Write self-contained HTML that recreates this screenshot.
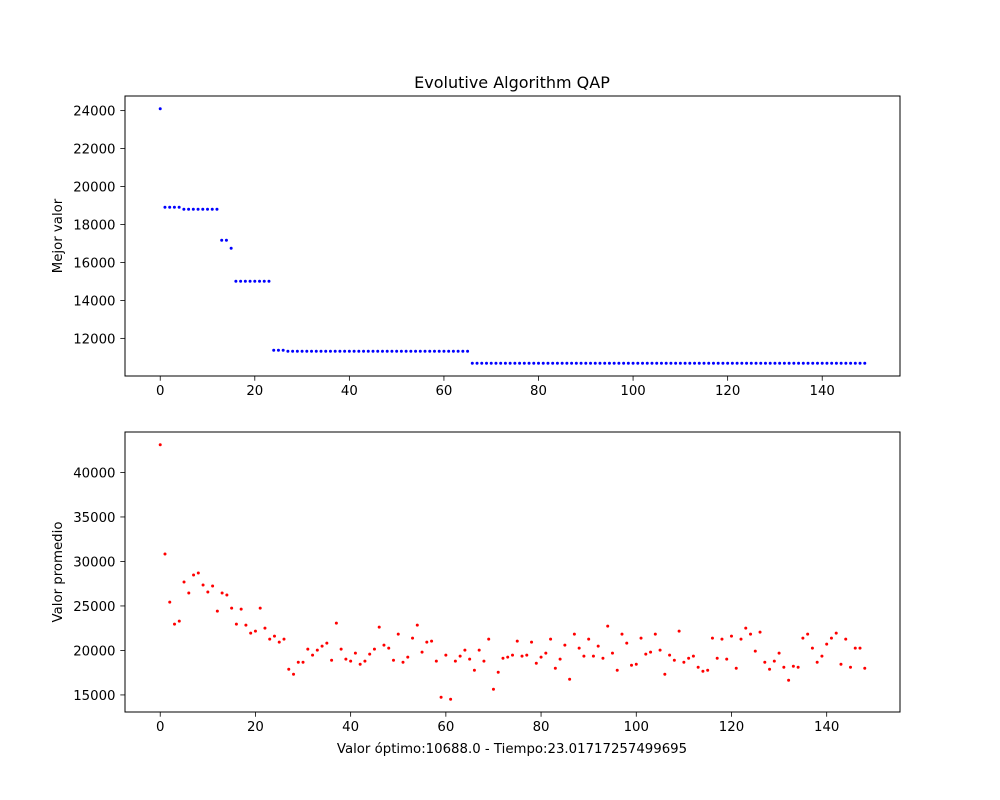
<!DOCTYPE html>
<html><head><meta charset="utf-8">
<style>
html,body{margin:0;padding:0;background:#fff;}
svg{display:block;font-family:"DejaVu Sans","Liberation Sans",sans-serif;}
</style></head>
<body>
<svg id="fig" width="1000" height="800" viewBox="0 0 1000 800"></svg>
<script>
const bestValues = [24100,18906,18906,18906,18906,18801,18801,18801,18801,18801,18801,18801,18801,17168,17168,16746,15008,15008,15008,15008,15008,15008,15008,15008,11371,11371,11371,
11319,11319,11319,11319,11319,11319,11319,11319,11319,11319,11319,11319,11319,11319,11319,11319,11319,11319,11319,11319,11319,11319,11319,11319,11319,11319,11319,11319,11319,11319,11319,11319,11319,11319,11319,11319,11319,11319,11319,
10688,10688,10688,10688,10688,10688,10688,10688,10688,10688,10688,10688,10688,10688,10688,10688,10688,10688,10688,10688,10688,10688,10688,10688,10688,10688,10688,10688,10688,10688,10688,10688,10688,10688,10688,10688,10688,10688,10688,10688,10688,10688,10688,10688,10688,10688,10688,10688,10688,10688,10688,10688,10688,10688,10688,10688,10688,10688,10688,10688,10688,10688,10688,10688,10688,10688,10688,10688,10688,10688,10688,10688,10688,10688,10688,10688,10688,10688,10688,10688,10688,10688,10688,10688];
const avgValues = [43117,30842,25436,22958,23296,27689,26450,28477,28702,27351,26562,27238,24423,26450,26224,24760,22958,24648,22846,21945,22170,24760,22508,21269,21607,20931,21269,17891,17327,18679,18679,20143,19467,20030,20481,
20819,18904,23071,20143,19017,18792,19693,18454,18792,19580,20143,22621,20593,20256,18904,21832,18679,19242,21382,22846,19805,20931,21044,18792,14737,19467,14512,18792,19355,20030,19017,17778,20030,18792,21269,15638,17553,19129,19242,19467,21044,
19355,19467,20931,18566,19242,19693,21269,18003,19017,20593,16764,21832,20256,19355,21269,19355,20481,19129,22733,19693,17778,21832,20819,18341,18454,21382,19580,19805,21832,20030,17327,19467,18904,22170,18679,19129,19355,18116,17665,17778,21382,
19129,21269,19017,21607,18003,21269,22508,21832,19918,22058,18679,17891,18792,19693,18116,16652,18228,18116,21382,21832,20256,18679,19355,20706,21382,21945,18454,21269,18116,20256,20256,18003];
const xTicks = [0,20,40,60,80,100,120,140];
const topYTicks = [12000,14000,16000,18000,20000,22000,24000];
const botYTicks = [15000,20000,25000,30000,35000,40000];

const NS="http://www.w3.org/2000/svg";
const svg=document.getElementById('fig');
function mk(tag,attrs,parent){const e=document.createElementNS(NS,tag);for(const k in attrs)e.setAttribute(k,attrs[k]);(parent||svg).appendChild(e);return e;}

function panel(name,top,values,color,yTicks,ylabel){
  const L=125,R=900,T=top,B=top+280;
  const n=values.length;
  const xmin=0,xmax=n-1,xm=(xmax-xmin)*0.05;
  const x0=xmin-xm,x1=xmax+xm;
  const vmin=Math.min(...values),vmax=Math.max(...values),ym=(vmax-vmin)*0.05;
  const y0=vmin-ym,y1=vmax+ym;
  const sx=v=>L+(v-x0)/(x1-x0)*(R-L);
  const sy=v=>B-(v-y0)/(y1-y0)*(B-T);
  const g=mk('g',{});
  
  
  values.forEach((v,i)=>{
    const c=mk('circle',{cx:sx(i),cy:sy(v),r:1.5,fill:color},g);
    
    
  });
  const frame=mk('rect',{x:L,y:T,width:R-L,height:B-T,fill:'none',stroke:'#000','stroke-width':1},g);
  
  
  xTicks.forEach(t=>{
    const x=sx(t);
    mk('line',{x1:x,y1:B,x2:x,y2:B+4.7,stroke:'#000','stroke-width':0.8},g);
    const tx=mk('text',{x:x,y:B+19,'font-size':13.3,'text-anchor':'middle',fill:'#000'},g);
    tx.textContent=t;
    
    
  });
  yTicks.forEach(t=>{
    const y=sy(t);
    mk('line',{x1:L-4.7,y1:y,x2:L,y2:y,stroke:'#000','stroke-width':0.8},g);
    const tx=mk('text',{x:L-9.5,y:y+5,'font-size':13.3,'text-anchor':'end',fill:'#000'},g);
    tx.textContent=t;
    
    
  });
  const yl=mk('text',{x:0,y:0,'font-size':13.3,'text-anchor':'middle',fill:'#000',transform:`translate(62,${(T+B)/2}) rotate(-90)`},g);
  yl.textContent=ylabel;
  
  
}
panel('best-value',96,bestValues,'#0000ff',topYTicks,'Mejor valor');
panel('average-value',432,avgValues,'#ff0000',botYTicks,'Valor promedio');

const title=mk('text',{x:512,y:88,'font-size':16,'text-anchor':'middle',fill:'#000'});
title.textContent='Evolutive Algorithm QAP';


const xl=mk('text',{x:512,y:753,'font-size':13.3,'text-anchor':'middle',fill:'#000'});
xl.textContent='Valor óptimo:10688.0 - Tiempo:23.01717257499695';


</script>
</body></html>
